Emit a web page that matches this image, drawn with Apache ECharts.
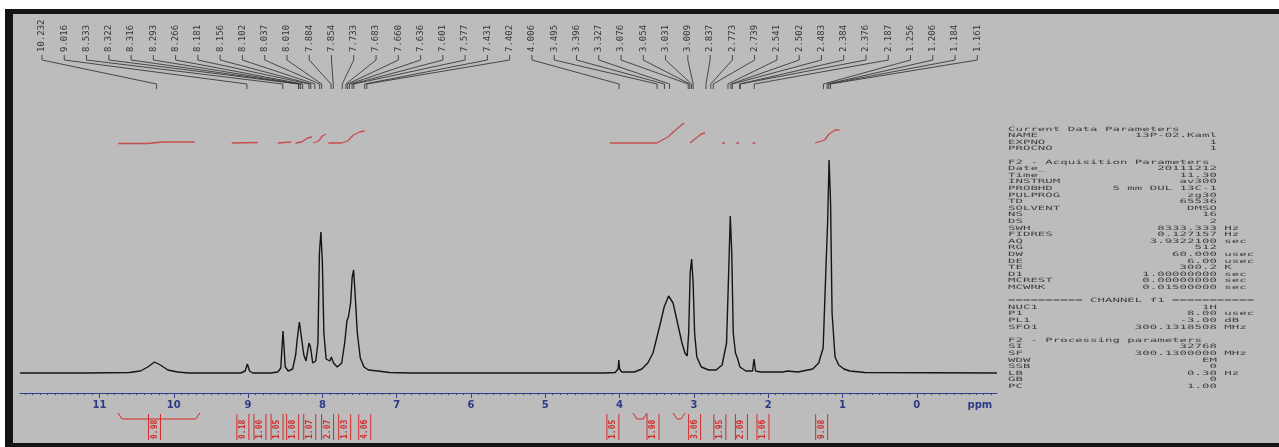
<!DOCTYPE html>
<html><head><meta charset="utf-8">
<script src="https://cdn.jsdelivr.net/npm/echarts@6/dist/echarts.min.js"></script>
<style>html,body{margin:0;padding:0;background:#fff}#c{width:1279px;height:447px}</style>
</head><body><div id="c"></div>
<script>
// ---------- data ----------
const axisMajorTicks = [0,1,2,3,4,5,6,7,8,9,10,11];
const axisUnitLabel = 'ppm';

const peakLabelsLeft = ['10.232','9.016','8.533','8.322','8.316','8.293','8.266','8.181','8.156','8.102','8.037','8.010','7.884','7.854','7.733','7.683','7.660','7.636','7.601','7.577','7.431','7.402'];
const peakLabelsRight = ['4.006','3.495','3.396','3.327','3.076','3.054','3.031','3.009','2.837','2.773','2.739','2.541','2.502','2.483','2.384','2.376','2.187','1.256','1.206','1.184','1.161'];

// spectrum trace: [ppm, intensity]
const spectrum = [
 [12.07,0],[11.2,0],[10.6,0.5],[10.45,2],[10.35,6],[10.26,11],[10.18,8],[10.08,3],[9.95,1],[9.8,0],
 [9.1,0],[9.04,2],[9.01,9],[8.98,2],[8.94,0],[8.7,0],[8.6,1],[8.56,5],[8.53,42],[8.50,6],[8.46,2],
 [8.40,4],[8.36,18],[8.34,33],[8.31,51],[8.29,40],[8.25,18],[8.22,12],[8.18,30],[8.16,26],[8.13,10],
 [8.09,12],[8.06,30],[8.04,120],[8.02,141],[8.00,110],[7.98,40],[7.95,14],[7.90,12],[7.88,16],[7.85,10],
 [7.80,6],[7.74,10],[7.70,30],[7.67,52],[7.65,56],[7.62,70],[7.60,95],[7.58,103],[7.56,80],[7.53,40],
 [7.49,15],[7.44,6],[7.38,3],[7.25,2],[7.1,0.5],[6.8,0],[4.2,0],[4.06,0.5],[4.02,4],[4.01,13],[4.00,4],
 [3.97,1],[3.8,1],[3.7,4],[3.62,10],[3.55,20],[3.50,35],[3.45,50],[3.40,66],[3.34,77],[3.28,70],
 [3.22,50],[3.16,30],[3.12,20],[3.09,17],[3.07,40],[3.05,100],[3.03,114],[3.01,90],[2.99,40],[2.96,16],
 [2.90,6],[2.80,3],[2.70,3],[2.62,8],[2.56,30],[2.53,105],[2.51,157],[2.49,120],[2.47,40],[2.44,20],
 [2.41,14],[2.38,6],[2.30,2],[2.21,2],[2.19,14],[2.17,2],[2.1,1],[1.8,1],[1.74,2],[1.6,1],[1.40,4],
 [1.32,10],[1.26,25],[1.22,110],[1.20,150],[1.18,213],[1.16,170],[1.14,60],[1.10,16],[1.05,8],
 [0.98,4],[0.9,2],[0.7,0.5],[-1.08,0]
];

// integral curves: [ppm, level], null separates segments
const integralCurves = [
 [10.75,229.5],[10.35,229.5],[10.15,231],[9.72,231],null,
 [9.22,230],[8.87,230.5],null,
 [8.60,230],[8.42,231],null,
 [8.36,230],[8.28,231],[8.20,235],[8.14,236],null,
 [8.12,230],[8.05,232],[8.00,237],[7.95,239],null,
 [7.92,230],[7.74,230],null,
 [7.74,230],[7.66,232],[7.58,238],[7.50,241],[7.43,242],null,
 [4.13,230],[3.50,230],[3.35,236],[3.20,246],[3.13,250],null,
 [3.05,230],[2.97,235],[2.90,239],[2.85,240],null,
 [2.62,230],[2.58,230],null,[2.43,230],[2.39,230],null,[2.21,230],[2.17,230],null,
 [1.37,230],[1.24,233],[1.18,239],[1.10,243],[1.04,243]
];

const integralLabelPpm = [10.26, 9.07,8.84,8.61,8.40,8.17,7.93,7.70,7.43, 4.09,3.55,2.99,2.65,2.36,2.07,1.28];
const integralValues  = ['0.98','0.18','1.00','1.05','1.08','1.07','2.07','1.03','4.06','1.05','1.98','3.06','1.95','2.09','1.06','9.08'];
const integralBrackets = [[10.75,9.65],[3.82,3.63],[3.28,3.12]];

const paramLines = [
 ['Current Data Parameters'],
 ['NAME','13P-02.Kaml'],
 ['EXPNO','1'],
 ['PROCNO','1'],
 [''],
 ['F2 - Acquisition Parameters'],
 ['Date_','20111212'],
 ['Time','11.30'],
 ['INSTRUM','av300'],
 ['PROBHD','5 mm DUL 13C-1'],
 ['PULPROG','zg30'],
 ['TD','65536'],
 ['SOLVENT','DMSO'],
 ['NS','16'],
 ['DS','2'],
 ['SWH','8333.333','Hz'],
 ['FIDRES','0.127157','Hz'],
 ['AQ','3.9322100','sec'],
 ['RG','512'],
 ['DW','60.000','usec'],
 ['DE','6.00','usec'],
 ['TE','300.2','K'],
 ['D1','1.00000000','sec'],
 ['MCREST','0.00000000','sec'],
 ['MCWRK','0.01500000','sec'],
 [''],
 ['========== CHANNEL f1 ==========='],
 ['NUC1','1H'],
 ['P1','8.00','usec'],
 ['PL1','-3.00','dB'],
 ['SFO1','300.1318508','MHz'],
 [''],
 ['F2 - Processing parameters'],
 ['SI','32768'],
 ['SF','300.1300000','MHz'],
 ['WDW','EM'],
 ['SSB','0'],
 ['LB','0.30','Hz'],
 ['GB','0'],
 ['PC','1.00']
];

// ---------- layout ----------
const X_MIN = -1.08, X_MAX = 12.07;
const LBL_X0 = 42, LBL_DX = 22.27;
const MONO = '"DejaVu Sans Mono", "Liberation Mono", monospace';

const allPeakLabels = peakLabelsLeft.concat(peakLabelsRight);
const minorTicks = [];
for (let k = -10; k <= 120; k++) minorTicks.push(k / 10);

function formatParam(p) {
  if (p.length === 1) return p[0];
  let s = p[0].padEnd(8) + p[1].padStart(20);
  if (p[2]) s += ' ' + p[2];
  return s;
}

const bgElements = [
  {type:'rect', shape:{x:0,y:0,width:1279,height:447}, style:{fill:'#ffffff'}, silent:true},
  {type:'rect', shape:{x:13,y:14,width:1266,height:429}, style:{fill:'#bcbcbc'}, silent:true},
  {type:'rect', shape:{x:5,y:9,width:1274,height:5}, style:{fill:'#141414'}, silent:true},
  {type:'rect', shape:{x:5,y:9,width:8,height:438}, style:{fill:'#141414'}, silent:true},
  {type:'rect', shape:{x:5,y:443,width:1274,height:4}, style:{fill:'#141414'}, silent:true}
];
const textElements = paramLines.map((p, i) => ({
  type:'text', x:1008, y:129 + i*6.6, scaleX:1.77, scaleY:0.85, silent:true,
  style:{text: formatParam(p), font:'7px ' + MONO, fill:'#404040', verticalAlign:'middle', align:'left'}
}));

const chart = echarts.init(document.getElementById('c'), null, {renderer:'canvas'});
chart.setOption({
  animation:false,
  backgroundColor:'#ffffff',
  graphic: [
    {type:'group', z:-50, children: bgElements},
    {type:'group', z:5, children: textElements}
  ],
  grid:{left:20, right:282, top:14, bottom:49, containLabel:false},
  xAxis:[{
    type:'value', min:X_MIN, max:X_MAX, inverse:true, position:'bottom', z:20,
    axisLine:{show:true, onZero:true, onZeroAxisIndex:1, lineStyle:{color:'#34428e', width:1.2}},
    axisTick:{show:true, customValues: axisMajorTicks, length:5, inside:false, lineStyle:{color:'#34428e', width:1}},
    axisLabel:{show:true, customValues: axisMajorTicks.concat([-0.85]), margin:2,
      formatter: v => (v < 0 ? axisUnitLabel : String(v)),
      color:'#2d3a86', fontSize:10, fontWeight:'bold', fontFamily:'DejaVu Sans'},
    splitLine:{show:false}
  },{
    type:'value', min:X_MIN, max:X_MAX, inverse:true, position:'bottom', z:20,
    axisLine:{show:false, onZero:true, onZeroAxisIndex:1},
    axisTick:{show:true, customValues: minorTicks, length:2, lineStyle:{color:'#34428e', width:1}},
    axisLabel:{show:false}, splitLine:{show:false}
  }],
  yAxis:[
    {type:'value', min:-25, max:359, show:false},
    {type:'value', min:-5, max:379, show:false}
  ],
  series:[
    {type:'line', name:'spectrum', data: spectrum, xAxisIndex:0, yAxisIndex:0, showSymbol:false, symbol:'none',
     lineStyle:{color:'#151515', width:1.4}, z:3, clip:true},
    {type:'line', name:'integrals', data: integralCurves, xAxisIndex:0, yAxisIndex:0, showSymbol:false, symbol:'none',
     connectNulls:false, lineStyle:{color:'#c83a3a', width:1.3, opacity:0.85}, z:3},
    {type:'custom', name:'peakLabels', xAxisIndex:0, yAxisIndex:0, clip:false,
     data: allPeakLabels.map((t, i) => [parseFloat(t), i]),
     renderItem:(params, api) => {
       const ppm = api.value(0), i = api.value(1);
       const xl = LBL_X0 + i * LBL_DX;
       const xp = api.coord([ppm, 0])[0];
       return {type:'group', children:[
         {type:'text', x:xl, y:52, rotation:Math.PI/2,
          style:{text: allPeakLabels[i], font:'9px ' + MONO, fill:'#383838', align:'left', verticalAlign:'middle'}},
         {type:'polyline', shape:{points:[[xl,55],[xl,60],[xp,84],[xp,89]]},
          style:{stroke:'#3a3a3a', lineWidth:0.9, fill:null}}
       ]};
     }},
    {type:'custom', name:'integralLabels', xAxisIndex:0, yAxisIndex:0, clip:false,
     data: integralLabelPpm.map((p, i) => [p, i]),
     renderItem:(params, api) => {
       const i = api.value(1);
       const x = api.coord([api.value(0), 0])[0];
       return {type:'group', children:[
         {type:'text', x:x, y:439, rotation:Math.PI/2,
          style:{text: integralValues[i], font:'bold 8px ' + MONO, fill:'#d42a2a', align:'left', verticalAlign:'middle'}},
         {type:'line', shape:{x1:x-6,y1:414,x2:x-6,y2:440}, style:{stroke:'#d42a2a', lineWidth:1}},
         {type:'line', shape:{x1:x+6,y1:414,x2:x+6,y2:440}, style:{stroke:'#d42a2a', lineWidth:1}}
       ]};
     }},
    {type:'custom', name:'integralBrackets', xAxisIndex:0, yAxisIndex:0, clip:false,
     data: integralBrackets,
     renderItem:(params, api) => {
       const x1 = api.coord([api.value(0), 0])[0];
       const x2 = api.coord([api.value(1), 0])[0];
       return {type:'polyline', shape:{points:[[x1,413],[x1+4,419],[x2-4,419],[x2,413]]},
         style:{stroke:'#d42a2a', lineWidth:1, fill:null}};
     }}
  ]
});
</script></body></html>
